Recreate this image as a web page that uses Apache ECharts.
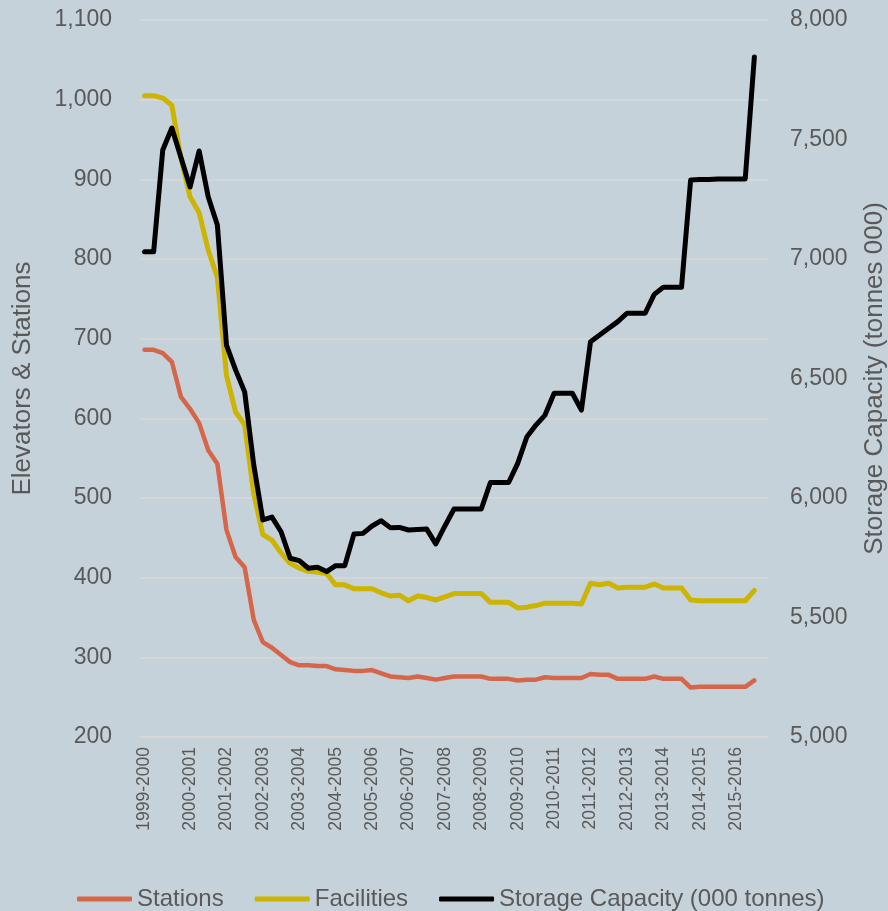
<!DOCTYPE html>
<html>
<head>
<meta charset="utf-8">
<script src="https://cdn.jsdelivr.net/npm/echarts@6/dist/echarts.min.js"></script>
<style>
html,body{margin:0;padding:0;background:#c6d2d9;}
#chart{width:888px;height:911px;}
</style>
</head>
<body>
<div id="chart"></div>
<script>
// Seasons shown on the x axis and how many data points each season has
const seasons = ['1999-2000','2000-2001','2001-2002','2002-2003','2003-2004','2004-2005','2005-2006','2006-2007','2007-2008','2008-2009','2009-2010','2010-2011','2011-2012','2012-2013','2013-2014','2014-2015','2015-2016'];
const pointsPerSeason = [5,4,4,4,4,4,4,4,4,4,4,4,4,4,4,4,3];

// Series values (left axis: Stations, Facilities; right axis: Storage Capacity, 000 tonnes)
const stations = [686,686,682,671,627,612,594,560,543,460,
  426,413,347,319,312,303,294,290,290,289,
  289,285,284,283,283,284,280,276,275,274,
  276,274,272,274,276,276,276,276,273,273,
  273,271,272,272,275,274,274,274,274,279,
  278,278,273,273,273,273,276,273,273,273,
  262,263,263,263,263,263,263,271];
const facilities = [1005,1005,1002,993,927,878,858,811,777,654,
  608,592,505,454,447,431,418,412,408,407,
  405,391,391,386,386,386,381,377,378,371,
  377,375,372,376,380,380,380,380,369,369,
  369,362,363,365,368,368,368,368,367,393,
  391,393,387,388,388,388,392,387,387,387,
  372,371,371,371,371,371,371,384];
const storage = [7030,7030,7456,7548,7425,7301,7452,7259,7142,6640,
  6536,6444,6138,5908,5920,5859,5748,5738,5706,5710,
  5692,5717,5717,5849,5852,5883,5905,5876,5877,5866,
  5868,5870,5808,5883,5954,5954,5954,5954,6065,6065,
  6065,6145,6255,6305,6347,6438,6438,6438,6368,6654,
  6682,6710,6738,6773,6773,6773,6852,6882,6882,6882,
  7331,7333,7333,7335,7335,7335,7335,7845];

// Left axis ticks and right axis ticks
const leftTicks = {min:200, max:1100, step:100};
const rightTicks = {min:5000, max:8000, step:500};

// Build the per-point category list
const periods = [];
const labelIndex = new Set();
seasons.forEach((s, si) => {
  for (let k = 0; k < pointsPerSeason[si]; k++) {
    if (k === 0) labelIndex.add(periods.length);
    periods.push(s + ' #' + (k + 1));
  }
});
periods.push(' '); // trailing empty slot

const FONT = "'Liberation Sans', Arial, sans-serif";
const TXT = '#595959';
const GRID = '#d9d9d9';
const fmt = v => Number(v).toLocaleString('en-US');

const chart = echarts.init(document.getElementById('chart'), null, {renderer:'canvas'});
chart.setOption({
  backgroundColor: '#c6d2d9',
  animation: false,
  textStyle: {fontFamily: FONT},
  grid: {left: 140, right: 120, top: 20, bottom: 174, containLabel: false, outerBoundsMode: 'none'},
  legend: {
    left: 77, top: 887, padding: 0,
    icon: 'roundRect', itemWidth: 55, itemHeight: 5, itemGap: 31,
    textStyle: {fontSize: 24, color: TXT, fontFamily: FONT},
    data: ['Stations', 'Facilities', 'Storage Capacity (000 tonnes)']
  },
  xAxis: {
    type: 'category', data: periods, boundaryGap: true,
    axisLine: {lineStyle: {color: GRID, width: 1.5}},
    axisTick: {show: false},
    axisLabel: {
      rotate: 90, fontSize: 17.5, color: TXT, fontFamily: FONT, margin: 10,
      interval: (idx) => labelIndex.has(idx),
      formatter: v => v.split(' #')[0]
    },
    splitLine: {show: false}
  },
  yAxis: [{
    type: 'value', position: 'left',
    min: leftTicks.min, max: leftTicks.max, interval: leftTicks.step,
    name: 'Elevators & Stations', nameLocation: 'middle', nameGap: 104,
    nameTextStyle: {fontSize: 26, color: TXT, fontFamily: FONT},
    axisLine: {show: false}, axisTick: {show: false},
    axisLabel: {fontSize: 23, color: TXT, fontFamily: FONT, margin: 28, formatter: fmt},
    splitLine: {lineStyle: {color: GRID, width: 1.5}}
  }, {
    type: 'value', position: 'right',
    min: rightTicks.min, max: rightTicks.max, interval: rightTicks.step,
    name: 'Storage Capacity (tonnes 000)', nameLocation: 'middle', nameGap: 94,
    nameTextStyle: {fontSize: 26, color: TXT, fontFamily: FONT},
    axisLine: {show: false}, axisTick: {show: false},
    axisLabel: {fontSize: 23, color: TXT, fontFamily: FONT, margin: 22, formatter: fmt},
    splitLine: {show: false}
  }],
  series: [{
    name: 'Stations', type: 'line', yAxisIndex: 0, data: stations,
    symbol: 'none', color: '#d5664a',
    lineStyle: {width: 4.5, color: '#d5664a', cap: 'round', join: 'round'}
  }, {
    name: 'Facilities', type: 'line', yAxisIndex: 0, data: facilities,
    symbol: 'none', color: '#ccb400',
    lineStyle: {width: 5, color: '#ccb400', cap: 'round', join: 'round'}
  }, {
    name: 'Storage Capacity (000 tonnes)', type: 'line', yAxisIndex: 1, data: storage,
    symbol: 'none', color: '#000000',
    lineStyle: {width: 5, color: '#000000', cap: 'round', join: 'round'}
  }]
});
</script>
</body>
</html>
